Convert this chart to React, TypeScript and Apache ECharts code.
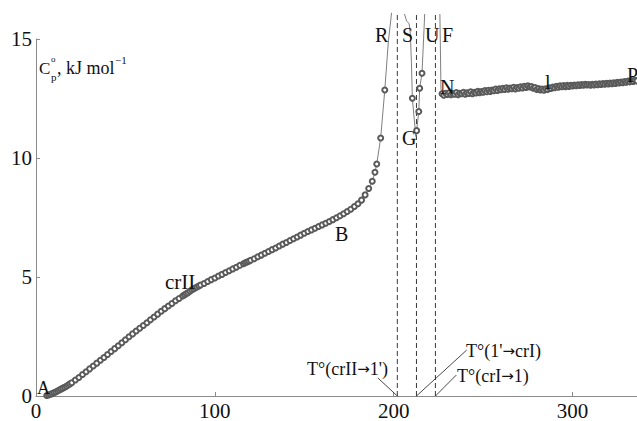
import React, { useEffect, useRef } from "react";
import * as echarts from "echarts";

// Main branch A -> crII -> B -> R (open circles)
const mainT = [6, 7, 8, 9, 10, 11, 12, 13, 14, 15, 16, 17, 18, 19, 20, 22, 24, 26, 28, 30, 32, 34, 36, 38, 40, 42, 44, 46, 48, 50, 52, 54, 56, 58, 60, 62, 64, 66, 68, 70, 72, 74, 76, 78, 80, 82, 83, 84, 85, 86, 87, 88, 89, 90, 91, 92, 94, 96, 98, 100, 102, 104, 106, 108, 110, 112, 114, 116, 117, 118, 119, 120, 122, 124, 126, 128, 130, 132, 134, 136, 138, 140, 142, 144, 146, 148, 150, 152, 154, 156, 158, 160, 162, 164, 166, 168, 170, 172, 174, 176, 178, 180, 182, 184, 186, 188, 189.5, 190.5, 192.7, 195];
const mainCp = [0.02, 0.04, 0.07, 0.1, 0.14, 0.17, 0.21, 0.25, 0.29, 0.33, 0.37, 0.41, 0.46, 0.51, 0.56, 0.67, 0.78, 0.9, 1.02, 1.14, 1.26, 1.38, 1.5, 1.62, 1.74, 1.87, 1.99, 2.11, 2.24, 2.36, 2.49, 2.61, 2.73, 2.85, 2.96, 3.08, 3.2, 3.32, 3.44, 3.56, 3.67, 3.78, 3.89, 4.0, 4.1, 4.2, 4.25, 4.3, 4.34, 4.4, 4.45, 4.5, 4.54, 4.58, 4.62, 4.66, 4.73, 4.81, 4.89, 4.96, 5.04, 5.11, 5.19, 5.26, 5.34, 5.41, 5.49, 5.56, 5.6, 5.63, 5.66, 5.7, 5.77, 5.85, 5.92, 6.0, 6.07, 6.15, 6.22, 6.3, 6.38, 6.45, 6.53, 6.61, 6.68, 6.76, 6.84, 6.91, 6.98, 7.05, 7.12, 7.19, 7.26, 7.33, 7.41, 7.49, 7.57, 7.66, 7.75, 7.85, 7.96, 8.08, 8.23, 8.45, 8.72, 9.02, 9.4, 9.75, 10.84, 12.86];
// R peak continuation (line only, runs off the top)
const peakRT = [197.0, 198.8];
const peakRCp = [14.9, 16.1];

// S -> G -> U branch (1 = measured point with circle)
const sguT = [206.0, 207.2, 208.6, 209.3, 209.9, 210.4, 211.5, 212.4, 212.8, 214.0, 214.5, 215.8, 216.7, 217.3];
const sguCp = [16.05, 15.75, 15.65, 15.2, 14.0, 12.51, 11.6, 10.9, 11.15, 11.95, 12.93, 13.56, 15.0, 16.05];
const sguMarked = [0, 0, 0, 0, 0, 1, 0, 0, 1, 1, 1, 1, 0, 0];

// F drop into the liquid branch
const fT = [225.8, 226.1, 226.4];
const fCp = [16.05, 14.5, 12.9];

// Liquid branch N -> l -> P
const liqT = [227, 228, 229, 230, 231, 232, 233, 234, 235, 236, 237, 238, 239, 240, 241, 242, 243, 244, 245, 246, 247, 248, 249, 250, 251, 252, 253, 254, 255, 256, 257, 258, 259, 260, 261, 262, 263, 264, 265, 266, 267, 268, 269, 270, 271, 272, 273, 274, 275, 276, 277, 278, 279, 280, 281, 282, 283, 284, 285, 286, 287, 288, 289, 290, 291, 292, 293, 294, 295, 296, 297, 298, 299, 300, 301, 302, 303, 304, 305, 306, 307, 308, 309, 310, 311, 312, 313, 314, 315, 316, 317, 318, 319, 320, 321, 322, 323, 324, 325, 326, 327, 328, 329, 330, 331, 332, 333, 334, 335, 336];
const liqCp = [12.70, 12.64, 12.72, 12.67, 12.74, 12.66, 12.71, 12.68, 12.75, 12.66, 12.72, 12.70, 12.76, 12.68, 12.74, 12.71, 12.78, 12.70, 12.76, 12.73, 12.80, 12.74, 12.79, 12.76, 12.83, 12.78, 12.85, 12.80, 12.86, 12.83, 12.90, 12.84, 12.91, 12.87, 12.93, 12.88, 12.95, 12.89, 12.94, 12.91, 12.97, 12.90, 12.96, 12.93, 12.99, 12.94, 13.01, 12.96, 13.03, 12.98, 13.00, 12.93, 12.96, 12.88, 12.92, 12.86, 12.90, 12.85, 12.91, 12.88, 12.95, 12.92, 12.98, 12.95, 13.01, 12.97, 13.03, 12.99, 13.04, 13.00, 13.05, 13.01, 13.06, 13.03, 13.07, 13.04, 13.08, 13.05, 13.09, 13.06, 13.10, 13.07, 13.09, 13.06, 13.10, 13.07, 13.11, 13.08, 13.12, 13.09, 13.13, 13.10, 13.14, 13.11, 13.15, 13.12, 13.16, 13.13, 13.18, 13.15, 13.19, 13.16, 13.21, 13.18, 13.23, 13.20, 13.25, 13.22, 13.27, 13.24];

// Transition temperatures (dashed verticals)
const transT = [202.0, 212.7, 223.3];
const transTop = 16.05;

// Leader lines from labels to the transition temperatures [[T1,Cp1],[T2,Cp2]]
const leaders = [
  [[191.1, 0.76], [202.0, 0]],
  [[212.7, 0], [240.8, 1.93]],
  [[223.3, 0], [235.0, 0.88]],
];

const xTicks = [0, 100, 200, 300];
const yTicks = [0, 5, 10, 15];

const SERIF = '"Liberation Serif", "Times New Roman", serif';

export default function App() {
  const ref = useRef<HTMLDivElement>(null);
  useEffect(() => {
    document.body.style.margin = "0";
    const chart = echarts.init(ref.current!, null, { renderer: "svg" });

    const circleStyle = {
      symbol: "emptyCircle",
      symbolSize: 5,
      itemStyle: { color: "#5a5a5a", borderWidth: 0.8 },
      lineStyle: { color: "#707070", width: 0.9 },
    };

    const mainData: any[] = mainT.map((t, i) => [t, mainCp[i]]);
    peakRT.forEach((t, i) => mainData.push({ value: [t, peakRCp[i]], symbol: "none" }));

    const sguData = sguT.map((t, i) =>
      sguMarked[i] ? [t, sguCp[i]] : { value: [t, sguCp[i]], symbol: "none" }
    );

    const liqData: any[] = fT.map((t, i) => ({ value: [t, fCp[i]], symbol: "none" }));
    liqT.forEach((t, i) => liqData.push([t, liqCp[i]]));

    const series: any[] = [
      { type: "line", data: mainData, clip: false, ...circleStyle, z: 3 },
      { type: "line", data: sguData, clip: false, ...circleStyle, z: 3 },
      { type: "line", data: liqData, clip: false, ...circleStyle, z: 3 },
    ];
    transT.forEach((t) => {
      series.push({
        type: "line",
        data: [[t, 0], [t, transTop]],
        symbol: "none",
        clip: false,
        lineStyle: { color: "#222", width: 0.9, type: [5, 3] },
        z: 2,
      });
    });
    leaders.forEach((l) => {
      series.push({
        type: "line",
        data: l,
        symbol: "none",
        clip: false,
        lineStyle: { color: "#333", width: 0.9 },
        z: 2,
      });
    });

    const txt = (text: string, x: number, y: number, size = 20, align = "left") => ({
      type: "text",
      x,
      y,
      z: 10,
      style: {
        text,
        font: `${size}px ${SERIF}`,
        fill: "#111",
        textAlign: align,
        textVerticalAlign: "middle",
        rich: {
          a: { fontFamily: '"DejaVu Sans", sans-serif', fontSize: 15, fill: "#111", color: "#111" },
        },
      },
    });

    const option: any = {
      animation: false,
      backgroundColor: "#fff",
      grid: { left: 36, right: 0, top: 39, bottom: 25, containLabel: false },
      xAxis: {
        type: "value",
        min: 0,
        max: 336,
        interval: 100,
        axisLine: { lineStyle: { color: "#8a8a8a", width: 1 } },
        axisTick: { inside: true, length: 4, lineStyle: { color: "#8a8a8a" } },
        splitLine: { show: false },
        axisLabel: {
          margin: 4,
          fontSize: 21,
          fontFamily: SERIF,
          color: "#111",
          showMaxLabel: false,
          formatter: (v: number) => (xTicks.includes(v) ? String(v) : ""),
        },
      },
      yAxis: {
        type: "value",
        min: 0,
        max: 15,
        interval: 5,
        axisLine: { show: true, lineStyle: { color: "#8a8a8a", width: 1 } },
        axisTick: { inside: true, length: 4, lineStyle: { color: "#8a8a8a" } },
        splitLine: { show: false },
        axisLabel: {
          margin: 4,
          fontSize: 21,
          fontFamily: SERIF,
          color: "#111",
          formatter: (v: number) => (yTicks.includes(v) ? String(v) : ""),
        },
      },
      series,
      graphic: [
        txt("C", 39, 68, 17),
        txt("o", 51, 59, 9),
        txt("p", 51, 77, 11),
        txt(", kJ mol", 57, 68, 18),
        txt("\u22121", 115, 60, 11),
        txt("A", 37, 388, 18),
        txt("crII", 165, 282, 21),
        txt("B", 335, 234, 20),
        txt("R", 375, 35, 20),
        txt("S", 402, 35, 20),
        txt("U", 425, 35, 20),
        txt("F", 442, 35, 20),
        txt("G", 402, 138, 20),
        txt("N", 440, 87, 20),
        txt("l", 545, 82, 20),
        txt("P", 627, 75, 20),
        txt("T\u00b0(crII{a|\u2192}1')", 388, 369, 18, "right"),
        txt("T\u00b0(1'{a|\u2192}crI)", 466, 351, 18),
        txt("T\u00b0(crI{a|\u2192}1)", 457, 376, 18),
      ],
    };
    chart.setOption(option);
    return () => chart.dispose();
  }, []);
  return <div ref={ref} style={{ width: 637, height: 421 }} />;
}
